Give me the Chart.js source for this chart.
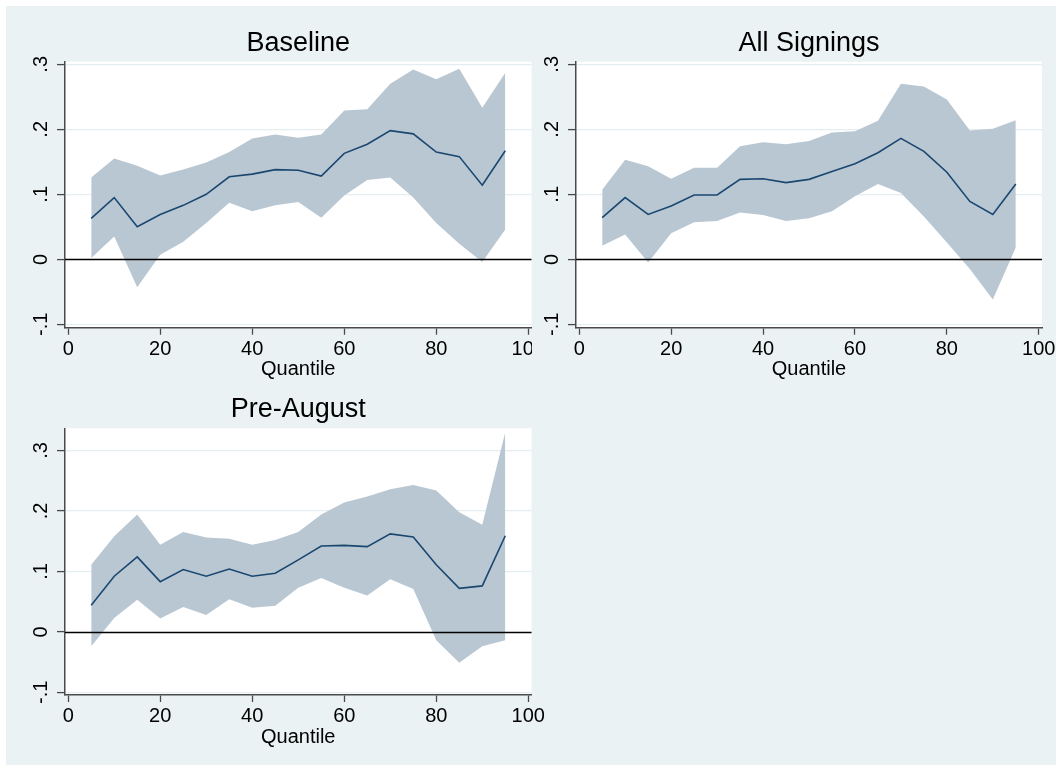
<!DOCTYPE html>
<html>
<head>
<meta charset="utf-8">
<script src="https://cdn.jsdelivr.net/npm/chart.js@4.4.1/dist/chart.umd.min.js"></script>
<style>
  html, body { margin: 0; padding: 0; background: #ffffff; width: 1056px; height: 765px; overflow: hidden; }
  #frame { position: absolute; left: 6px; top: 6px; right: 0; bottom: 0; background: #eaf2f3; }
  canvas { position: absolute; }
</style>
</head>
<body>
<div id="frame"></div>
<canvas id="panelBaseline"></canvas>
<canvas id="panelPreAugust"></canvas>
<canvas id="panelAllSignings"></canvas>
<script>
const FONT = "'Liberation Sans', Arial, Helvetica, sans-serif";

// Quantile grid of the regressions
const quantiles = [5, 10, 15, 20, 25, 30, 35, 40, 45, 50, 55, 60, 65, 70, 75, 80, 85, 90, 95];

// Baseline: point estimate and 95% band
const baselineCoef  = [0.063, 0.095, 0.050, 0.069, 0.083, 0.100, 0.127, 0.131, 0.138, 0.137, 0.128, 0.163, 0.177, 0.198, 0.193, 0.165, 0.158, 0.114, 0.167];
const baselineUpper = [0.126, 0.155, 0.144, 0.129, 0.138, 0.149, 0.165, 0.186, 0.192, 0.187, 0.192, 0.229, 0.231, 0.270, 0.292, 0.277, 0.293, 0.233, 0.287];
const baselineLower = [0.002, 0.035, -0.043, 0.007, 0.027, 0.056, 0.087, 0.074, 0.083, 0.088, 0.064, 0.098, 0.122, 0.126, 0.095, 0.056, 0.024, -0.004, 0.046];

// All signings
const allSigningsCoef  = [0.064, 0.095, 0.069, 0.082, 0.099, 0.099, 0.123, 0.124, 0.118, 0.123, 0.135, 0.147, 0.164, 0.186, 0.166, 0.134, 0.089, 0.069, 0.116];
const allSigningsUpper = [0.107, 0.153, 0.143, 0.124, 0.141, 0.141, 0.174, 0.180, 0.177, 0.182, 0.195, 0.197, 0.213, 0.270, 0.266, 0.246, 0.198, 0.201, 0.214];
const allSigningsLower = [0.021, 0.038, -0.005, 0.040, 0.057, 0.059, 0.072, 0.068, 0.059, 0.063, 0.074, 0.097, 0.116, 0.102, 0.066, 0.026, -0.015, -0.062, 0.018];

// Pre-August signings
const preAugustCoef  = [0.044, 0.092, 0.124, 0.083, 0.103, 0.092, 0.104, 0.092, 0.097, 0.119, 0.142, 0.143, 0.141, 0.162, 0.157, 0.111, 0.072, 0.076, 0.159];
const preAugustUpper = [0.111, 0.158, 0.194, 0.144, 0.165, 0.156, 0.154, 0.144, 0.152, 0.165, 0.194, 0.214, 0.224, 0.236, 0.243, 0.234, 0.198, 0.177, 0.330];
const preAugustLower = [-0.024, 0.023, 0.053, 0.022, 0.041, 0.028, 0.054, 0.040, 0.043, 0.073, 0.089, 0.073, 0.060, 0.087, 0.071, -0.014, -0.051, -0.024, -0.014];

// Axis ticks and labels
const xTickValues = [0, 20, 40, 60, 80, 100];
const yTickValues = [-0.1, 0, 0.1, 0.2, 0.3];
const yTickLabels = ['-.1', '0', '.1', '.2', '.3'];
const panelTitles = ['Baseline', 'All Signings', 'Pre-August'];
const xAxisTitle = 'Quantile';

// Style
const LINE_COLOR = '#1a476f';
const BAND_COLOR = '#b9c7d3';
const GRID_COLOR = '#e4eef0';
const AXIS_COLOR = '#4a4a4a';
const OUTER_BG = '#eaf2f3';

// Backdrop: outer fill (optional) and white plot region
const backdropPlugin = {
  id: 'panelBackdrop',
  beforeDraw(chart, args, opts) {
    const ctx = chart.ctx;
    ctx.save();
    if (opts.outer) {
      ctx.fillStyle = opts.outer;
      ctx.fillRect(0, 0, chart.width, chart.height);
    }
    const a = chart.chartArea;
    ctx.fillStyle = '#ffffff';
    ctx.fillRect(a.left, a.top, a.right - a.left, a.bottom - a.top);
    ctx.restore();
  }
};

// Reference line at zero, drawn over the confidence band
const zeroLinePlugin = {
  id: 'zeroLine',
  afterDatasetsDraw(chart) {
    const y = Math.round(chart.scales.y.getPixelForValue(0)) + 0.5;
    const a = chart.chartArea;
    const ctx = chart.ctx;
    ctx.save();
    ctx.strokeStyle = '#000000';
    ctx.lineWidth = 1.6;
    ctx.beginPath();
    ctx.moveTo(a.left, y);
    ctx.lineTo(a.right, y);
    ctx.stroke();
    ctx.restore();
  }
};

function points(values) {
  return quantiles.map((q, i) => ({ x: q, y: values[i] }));
}

function makePanel(id, geom, title, coef, upper, lower) {
  const cv = document.getElementById(id);
  cv.width = geom.w; cv.height = geom.h;
  cv.style.left = geom.left + 'px'; cv.style.top = geom.top + 'px';
  cv.style.width = geom.w + 'px'; cv.style.height = geom.h + 'px';

  const titleLH = 27 * 1.2;
  const titleTop = geom.titleMid - titleLH / 2;
  const titleBottom = geom.area.top - titleTop - titleLH;
  const xAxisH = 56;

  return new Chart(cv, {
    type: 'line',
    data: {
      datasets: [
        { data: points(coef), borderColor: LINE_COLOR, borderWidth: 1.6, pointRadius: 0, fill: false, tension: 0 },
        { data: points(upper), borderWidth: 0, borderColor: 'rgba(0,0,0,0)', backgroundColor: BAND_COLOR, pointRadius: 0, fill: '+1', tension: 0 },
        { data: points(lower), borderWidth: 0, borderColor: 'rgba(0,0,0,0)', pointRadius: 0, fill: false, tension: 0 }
      ]
    },
    options: {
      responsive: false,
      devicePixelRatio: 1,
      animation: false,
      events: [],
      layout: {
        padding: { left: 0, top: 0, right: geom.w - geom.area.right, bottom: geom.h - geom.area.bottom - xAxisH }
      },
      scales: {
        x: {
          type: 'linear',
          min: -0.7, max: 100.7,
          afterBuildTicks(scale) { scale.ticks = xTickValues.map(v => ({ value: v })); },
          afterFit(scale) { scale.height = xAxisH; },
          grid: { drawOnChartArea: false, drawTicks: true, tickLength: 7, tickColor: AXIS_COLOR, tickWidth: 1.3 },
          border: { display: true, color: AXIS_COLOR, width: 1.5 },
          ticks: { color: '#000', padding: 2.4, maxRotation: 0, autoSkip: false, font: { family: FONT, size: 20, lineHeight: 1.2 },
                   callback: v => String(v) },
          title: { display: true, text: xAxisTitle, color: '#000', padding: { top: 0, bottom: 1.9 },
                   font: { family: FONT, size: 20, lineHeight: 1.2 } }
        },
        y: {
          type: 'linear',
          min: geom.yMin, max: geom.yMax,
          afterBuildTicks(scale) { scale.ticks = yTickValues.map(v => ({ value: v })); },
          afterFit(scale) { scale.width = geom.area.left; },
          grid: {
            drawTicks: true, tickLength: 8, tickColor: AXIS_COLOR, tickWidth: 1.3, lineWidth: 1.2,
            color: ctx => (ctx.tick && Math.abs(ctx.tick.value) < 1e-9) ? 'rgba(0,0,0,0)' : GRID_COLOR
          },
          border: { display: true, color: AXIS_COLOR, width: 1.5 },
          ticks: {
            color: '#000', padding: 3.9, minRotation: 90, maxRotation: 90, crossAlign: 'center', autoSkip: false,
            font: { family: FONT, size: 20, lineHeight: 1.2 },
            callback: (v, i) => yTickLabels[i]
          }
        }
      },
      plugins: {
        legend: { display: false },
        tooltip: { enabled: false },
        title: {
          display: true, text: title, fullSize: false, color: '#000',
          font: { family: FONT, size: 27, weight: 'normal', lineHeight: 1.2 },
          padding: { top: titleTop, bottom: titleBottom }
        },
        panelBackdrop: { outer: geom.outer || null }
      }
    },
    plugins: [backdropPlugin, zeroLinePlugin]
  });
}

makePanel('panelBaseline',
  { left: 0, top: 0, w: 560, h: 385, area: { left: 65, top: 61.7, right: 531.5, bottom: 327.7 },
    yMin: -0.1052, yMax: 0.304, titleMid: 43.3 },
  panelTitles[0], baselineCoef, baselineUpper, baselineLower);

makePanel('panelPreAugust',
  { left: 0, top: 385, w: 560, h: 380, area: { left: 65, top: 43.3, right: 531.5, bottom: 310 },
    yMin: -0.1045, yMax: 0.3367, titleMid: 24.9 },
  panelTitles[2], preAugustCoef, preAugustUpper, preAugustLower);

makePanel('panelAllSignings',
  { left: 532, top: 6, w: 540, h: 379, area: { left: 44, top: 55.7, right: 510, bottom: 321.7 },
    yMin: -0.1052, yMax: 0.304, titleMid: 37.3, outer: OUTER_BG },
  panelTitles[1], allSigningsCoef, allSigningsUpper, allSigningsLower);
</script>
</body>
</html>
